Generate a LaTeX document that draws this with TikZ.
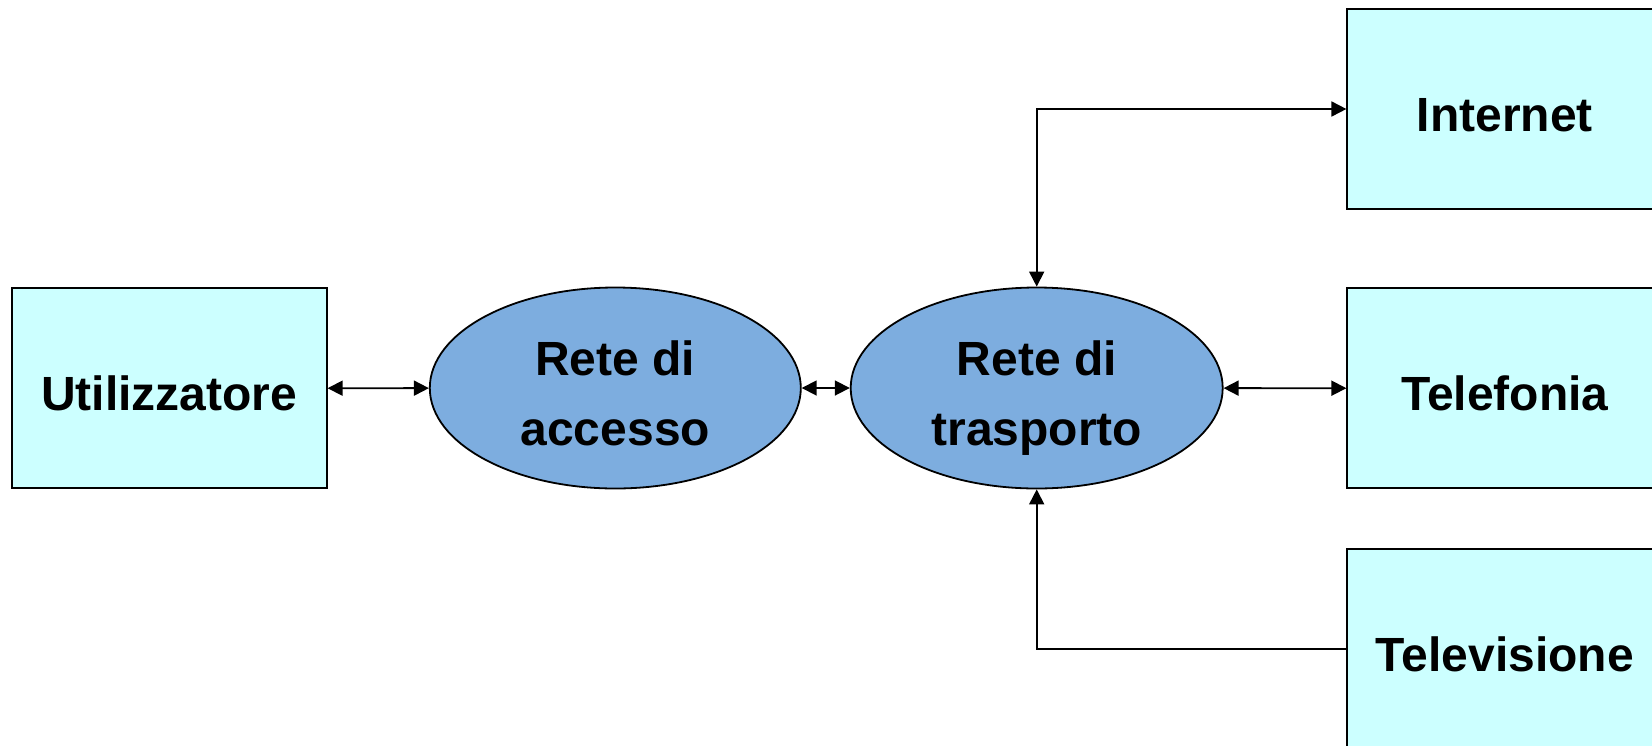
\documentclass[tikz,border=0pt]{standalone}
\usepackage{fontspec}
\setmainfont{Liberation Sans}
\usetikzlibrary{shapes.geometric,arrows.meta}

\definecolor{boxfill}{HTML}{CCFFFF}
\definecolor{netfill}{HTML}{7DADDF}

\tikzset{
  block/.style={draw=black, line width=1.8pt, fill=boxfill, rectangle,
    minimum width=315pt, minimum height=200pt, inner sep=0pt,
    font=\bfseries\fontsize{48}{70}\selectfont,
    text height=45pt, text depth=1pt},
  net/.style={draw=black, line width=1.8pt, fill=netfill, ellipse,
    minimum height=201pt, inner sep=0pt},
  nettext/.style={font=\bfseries\fontsize{48}{70}\selectfont, anchor=base, inner sep=0pt},
  link/.style={line width=1.8pt, draw=black},
  tip/.tip={Triangle[length=15pt, width=15pt]}
}

\begin{document}
\begin{tikzpicture}[x=1pt, y=-1pt]
  \useasboundingbox (0,0) rectangle (1652,745);
  \clip (0,0) rectangle (1652,745);

  % user terminal and service platforms
  \node[block] (utl) at (169.2,388.3) {Utilizzatore};
  \node[block] (int) at (1504.8,109) {Internet};
  \node[block] (tel) at (1504.8,388.3) {Telefonia};
  \node[block] (tv)  at (1504.8,649.3) {Televisione};

  % networks
  \node[net, minimum width=371pt] (acc) at (615.3,388) {};
  \node[net, minimum width=372pt] (tra) at (1036.7,388) {};
  \node[nettext] (accA) at ([yshift=13pt]acc.center) {Rete di};
  \node[nettext] (accB) at ([yshift=-57pt]acc.center) {accesso};
  \node[nettext] (traA) at ([yshift=13pt]tra.center) {Rete di};
  \node[nettext] (traB) at ([yshift=-57pt]tra.center) {trasporto};

  % links
  \draw[link, tip-tip] (utl) -- (acc);
  \draw[link, tip-tip] (acc) -- (tra);
  \draw[link, tip-tip] (tra) -- (tel);
  \draw[link, tip-tip] (tra.north) |- (int.west);
  \draw[link, -tip] (tv.west) -| (tra.south);
\end{tikzpicture}
\end{document}
